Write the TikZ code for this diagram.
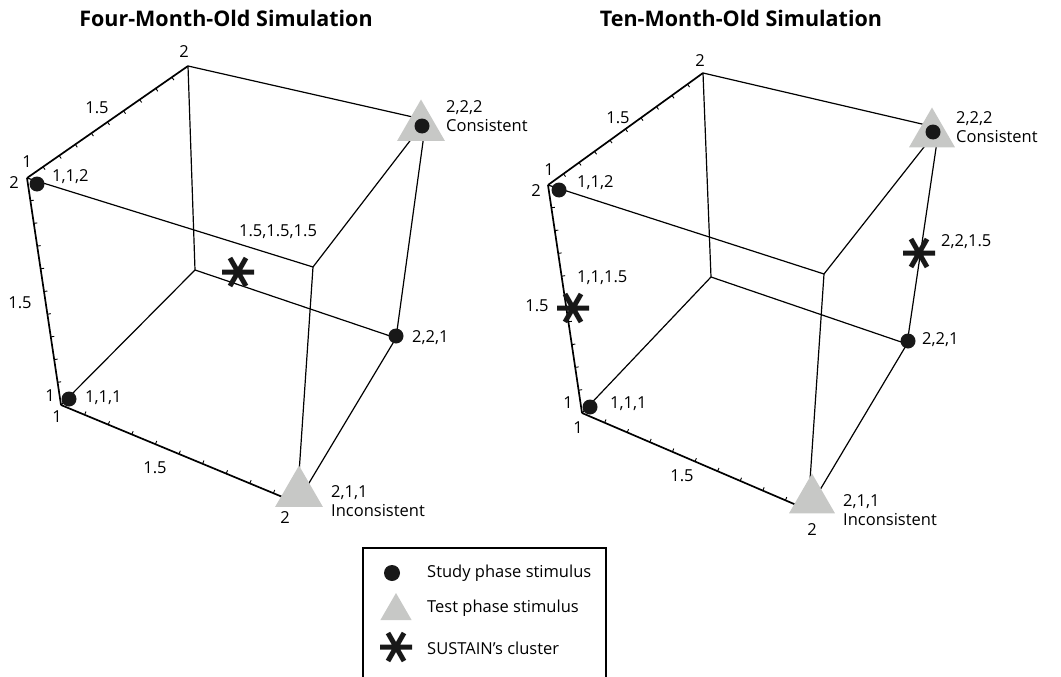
\documentclass[tikz,border=0pt]{standalone}
\usepackage{fontspec}
\setmainfont{Open Sans}
\usetikzlibrary{shapes.geometric,calc}
\definecolor{markgray}{RGB}{199,200,198}
\definecolor{dotblack}{RGB}{24,24,24}
\begin{document}
\begin{tikzpicture}[x=1pt,y=-1pt,
  edge/.style={line width=1.2pt, black},
  axisline/.style={line width=1.7pt, black},
  tickmark/.style={line width=0.9pt, black},
  lbl/.style={font=\fontsize{16.5}{19}\selectfont, inner sep=0pt, align=left},
  titletext/.style={font=\bfseries\fontsize{21.5}{26}\selectfont, inner sep=0pt},
  studydot/.style={circle, fill=dotblack, minimum size=15pt, inner sep=0pt, outer sep=0pt},
  testtri/.style={regular polygon, regular polygon sides=3, fill=markgray, inner sep=0pt, outer sep=0pt, minimum size=#1},
  legendbox/.style={line width=1.1pt, black},
  clusterstar/.pic={
    \draw[line width=5pt, line cap=butt, dotblack] (-16,0) -- (16,0) (-8,-14) -- (8,14) (8,-14) -- (-8,14);
  }
]
\useasboundingbox (0,0) rectangle (1061,677);

% ---------------- titles
\node[titletext] (t1) at (226,18) {Four-Month-Old Simulation};
\node[titletext] (t2) at (741,18) {Ten-Month-Old Simulation};

% ---------------- left cube vertices
\coordinate (L111) at (61,405);
\coordinate (L211) at (297,503);
\coordinate (L221) at (396,338);
\coordinate (L121) at (195,270);
\coordinate (L112) at (27,178);
\coordinate (L122) at (188,66);
\coordinate (L222) at (426,120);
\coordinate (L212) at (313,267);

% ---------------- right cube vertices
\coordinate (R111) at (582,413);
\coordinate (R211) at (808,510);
\coordinate (R221) at (907,344);
\coordinate (R121) at (711,277);
\coordinate (R112) at (548,185);
\coordinate (R122) at (703,73);
\coordinate (R222) at (939,128);
\coordinate (R212) at (824,274);

% ---------------- edges
\foreach \c in {L,R}{
  \draw[edge] (\c111) -- (\c121);
  \draw[edge] (\c121) -- (\c221);
  \draw[edge] (\c121) -- (\c122);
  \draw[edge] (\c122) -- (\c222);
  \draw[edge] (\c112) -- (\c212);
  \draw[edge] (\c212) -- (\c222);
  \draw[edge] (\c212) -- (\c211);
  \draw[edge] (\c222) -- (\c221);
  \draw[edge] (\c221) -- (\c211);
  \draw[axisline] (\c111) -- (\c211);
  \draw[axisline] (\c111) -- (\c112);
  \draw[axisline] (\c112) -- (\c122);
  \foreach \a/\b/\ang in {111/211/90, 111/112/-90, 112/122/-90}{
    \foreach \t in {0.1,0.2,...,0.95}{
      \path ($(\c\a)!\t!(\c\b)$) coordinate (tk);
      \draw[tickmark] (tk) -- ($(tk)!3.5pt!\ang:(\c\b)$);
    }
  }
}

% ---------------- left markers
\node[testtri=55pt] (lt222) at (421,127) {};
\node[testtri=55pt] (lt211) at (299,493) {};
\node[studydot] (ld222) at (422,126) {};
\node[studydot] (ld112) at (37,184) {};
\node[studydot] (ld111) at (69,399) {};
\node[studydot] (ld221) at (396,336) {};
\pic (ls1) at (238,272) {clusterstar};

% ---------------- right markers
\node[testtri=53pt] (rt222) at (932,134) {};
\node[testtri=53pt] (rt211) at (812,500) {};
\node[studydot] (rd222) at (933,132) {};
\node[studydot] (rd112) at (559,190) {};
\node[studydot] (rd111) at (590,407) {};
\node[studydot] (rd221) at (908,341) {};
\pic (rs1) at (919,253) {clusterstar};
\pic (rs2) at (573,308) {clusterstar};

% ---------------- left labels
\node[lbl] (la1) at (184,52) {2};
\node[lbl] (la2) at (97,108) {1.5};
\node[lbl] (la3) at (27,162) {1};
\node[lbl] (la4) at (14,183) {2};
\node[lbl] (la5) at (20,303) {1.5};
\node[lbl] (la6) at (50,396) {1};
\node[lbl] (la7) at (57,417) {1};
\node[lbl] (la8) at (155,468) {1.5};
\node[lbl] (la9) at (285,518) {2};
\node[lbl, anchor=west] (lp112) at (52,177) {1,1,2};
\node[lbl, anchor=west] (lp222) at (446,116) {2,2,2\\Consistent};
\node[lbl] (lpc) at (278,232) {1.5,1.5,1.5};
\node[lbl, anchor=west] (lp111) at (85,398) {1,1,1};
\node[lbl, anchor=west] (lp221) at (412,338) {2,2,1};
\node[lbl, anchor=west] (lp211) at (331,501) {2,1,1\\Inconsistent};

% ---------------- right labels
\node[lbl] (ra1) at (700,61) {2};
\node[lbl] (ra2) at (618,118) {1.5};
\node[lbl] (ra3) at (549,170) {1};
\node[lbl] (ra4) at (536,191) {2};
\node[lbl] (ra5) at (537,306) {1.5};
\node[lbl] (ra6) at (568,403) {1};
\node[lbl] (ra7) at (578,428) {1};
\node[lbl] (ra8) at (682,476) {1.5};
\node[lbl] (ra9) at (812,530) {2};
\node[lbl, anchor=west] (rp112) at (577,183) {1,1,2};
\node[lbl, anchor=west] (rp222) at (956,127) {2,2,2\\Consistent};
\node[lbl, anchor=west] (rp2215) at (941,242) {2,2,1.5};
\node[lbl, anchor=west] (rp1115) at (577,278) {1,1,1.5};
\node[lbl, anchor=west] (rp111) at (610,404) {1,1,1};
\node[lbl, anchor=west] (rp221) at (922,340) {2,2,1};
\node[lbl, anchor=west] (rp211) at (843,510) {2,1,1\\Inconsistent};

% ---------------- legend
\draw[legendbox] (363,690) -- (363,548) -- (606,548) -- (606,690);
\node[studydot, minimum size=16pt] (kd) at (392,573) {};
\node[testtri=36pt] (kt) at (396,611) {};
\pic (ks) at (396,647) {clusterstar};
\node[lbl, anchor=west] (k1) at (427,573) {Study phase stimulus};
\node[lbl, anchor=west] (k2) at (427,608) {Test phase stimulus};
\node[lbl, anchor=west] (k3) at (427,648) {SUSTAIN’s cluster};
\end{tikzpicture}
\end{document}
